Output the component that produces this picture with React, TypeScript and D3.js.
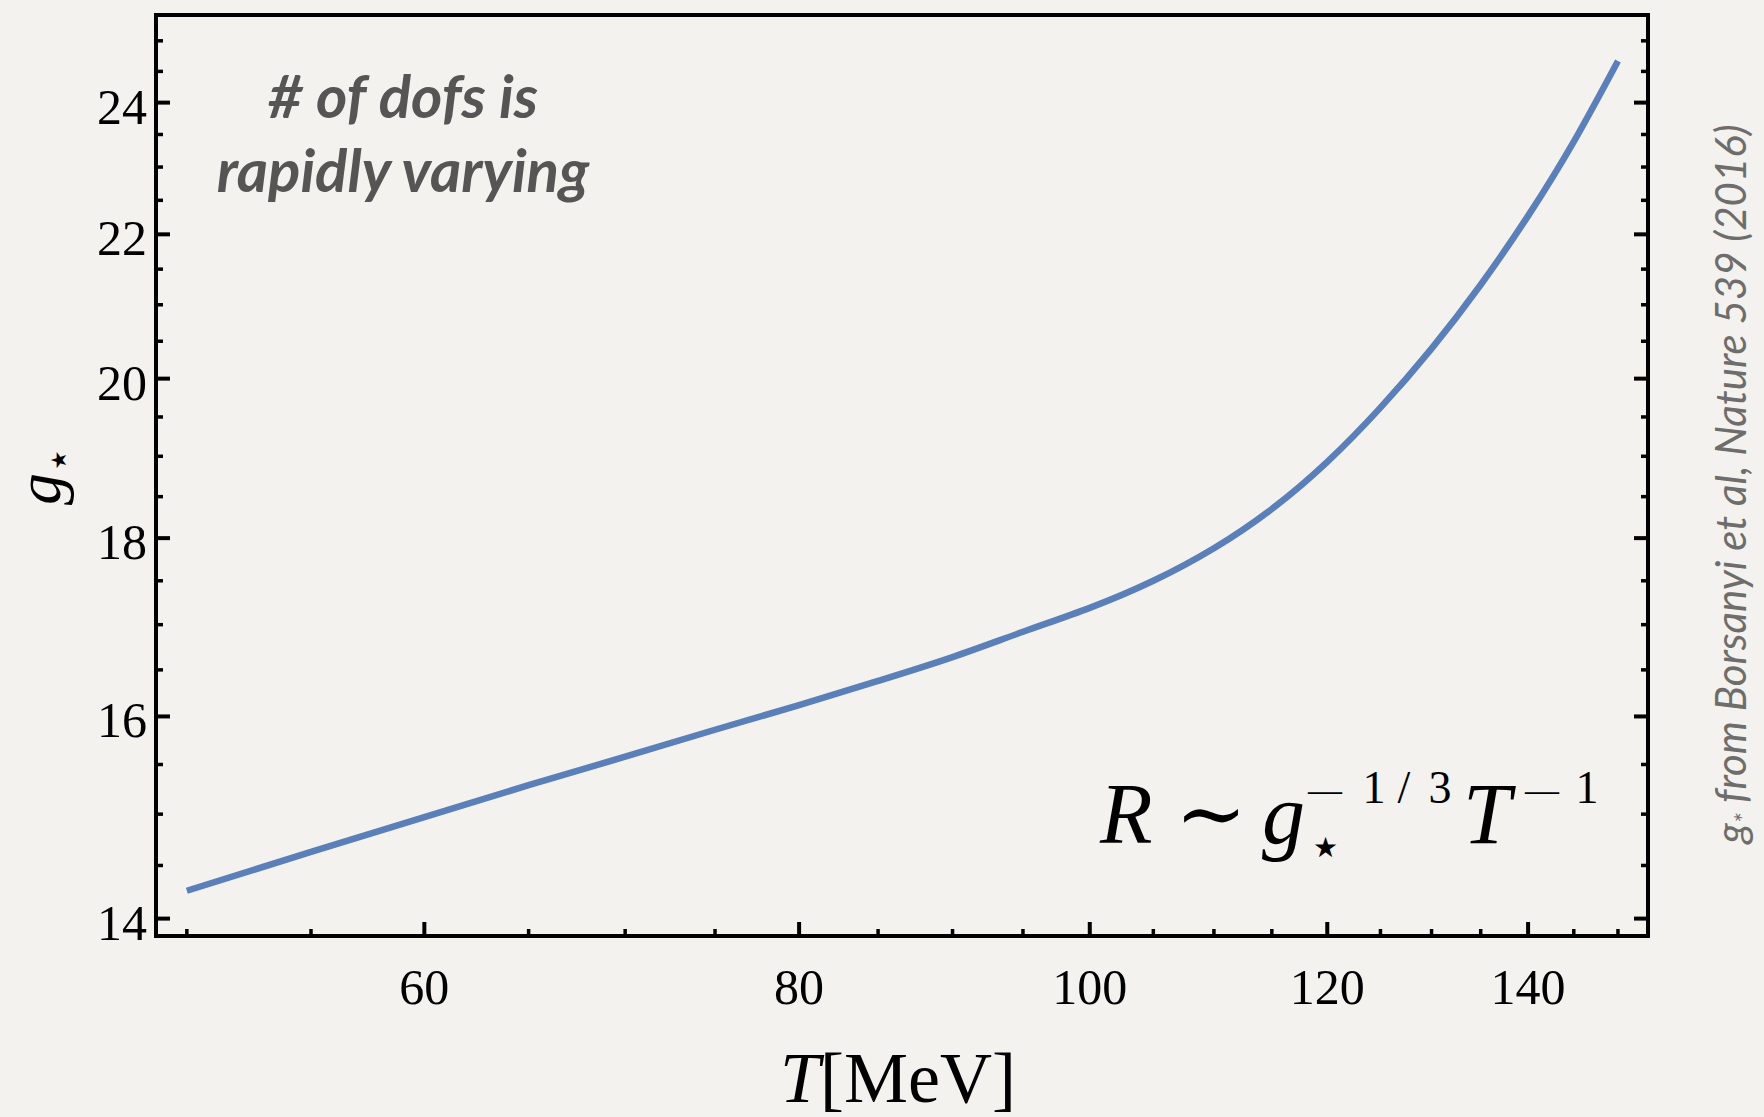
import React from 'react';
import * as d3 from 'd3';

// g* vs T (log-log)
const temps = [50, 55, 60, 65, 70, 75, 80, 85, 90, 95, 100, 105, 110, 115, 120, 125, 130, 135, 140, 145, 150];
const gStar = [14.26, 14.63, 14.97, 15.29, 15.58, 15.86, 16.12, 16.38, 16.64, 16.92, 17.19, 17.5, 17.88, 18.35, 18.93, 19.62, 20.4, 21.28, 22.27, 23.39, 24.67];

const xTicks = [60, 80, 100, 120, 140];
const xMinor = [50, 55, 65, 70, 75, 85, 90, 95, 105, 110, 115, 125, 130, 135, 145, 150];
const yTicks = [14, 16, 18, 20, 22, 24];
const yMinor = [14.5, 15, 15.5, 16.5, 17, 17.5, 18.5, 19, 19.5, 20.5, 21, 21.5, 22.5, 23, 23.5, 24.5, 25];

const W = 1764;
const H = 1117;
const left = 156, right = 1648, top = 15, bottom = 936;

export default function App() {
  const x = d3.scaleLog().domain([48.83, 153.5]).range([left, right]);
  const y = d3.scaleLog().domain([13.84, 25.43]).range([bottom, top]);

  const data = temps.map((t, i) => ({ t, g: gStar[i] }));
  const line = d3.line<{ t: number; g: number }>()
    .x(d => x(d.t))
    .y(d => y(d.g))
    .curve(d3.curveNatural);

  const serif = '"Liberation Serif", "DejaVu Serif", serif';
  const sans = 'Lato, "Open Sans", sans-serif';
  const star = '"DejaVu Sans", sans-serif';

  return (
    <div style={{ position: 'absolute', left: 0, top: 0 }}>
      <svg width={W} height={H} style={{ display: 'block' }}>
        <rect x={0} y={0} width={W} height={H} fill="#f3f2ef" />

        {/* curve */}
        <path d={line(data) || ''} fill="none" stroke="#5b7fb9" strokeWidth={6.5} />

        {/* ticks, left + right */}
        {yTicks.map(v => (
          <g key={'y' + v}>
            <line x1={left} x2={left + 14} y1={y(v)} y2={y(v)} stroke="#000" strokeWidth={4} />
            <line x1={right} x2={right - 14} y1={y(v)} y2={y(v)} stroke="#000" strokeWidth={4} />
            <text x={147} y={y(v) + 21} textAnchor="end" fontFamily={serif} fontSize={50}>{v}</text>
          </g>
        ))}
        {yMinor.map(v => (
          <g key={'ym' + v}>
            <line x1={left} x2={left + 7} y1={y(v)} y2={y(v)} stroke="#000" strokeWidth={3.5} />
            <line x1={right} x2={right - 7} y1={y(v)} y2={y(v)} stroke="#000" strokeWidth={3.5} />
          </g>
        ))}

        {/* ticks, bottom */}
        {xTicks.map(v => (
          <g key={'x' + v}>
            <line x1={x(v)} x2={x(v)} y1={bottom} y2={bottom - 14} stroke="#000" strokeWidth={4} />
            <text x={x(v)} y={1004} textAnchor="middle" fontFamily={serif} fontSize={50}>{v}</text>
          </g>
        ))}
        {xMinor.map(v => (
          <line key={'xm' + v} x1={x(v)} x2={x(v)} y1={bottom} y2={bottom - 7} stroke="#000" strokeWidth={3.5} />
        ))}

        {/* frame */}
        <rect x={left} y={top} width={right - left} height={bottom - top} fill="none" stroke="#000" strokeWidth={4} />

        {/* axis titles */}
        <text x={898} y={1102} textAnchor="middle" fontFamily={serif} fontSize={72}>
          <tspan fontStyle="italic">T</tspan>[MeV]
        </text>
        <g transform="translate(60,477) rotate(-90)">
          <text x={-12} y={0} textAnchor="middle" fontFamily={serif} fontStyle="italic" fontSize={64}>g</text>
          <text x={17} y={6} textAnchor="middle" fontFamily={star} fontSize={21}>★</text>
        </g>

        {/* annotations */}
        <g fontFamily={sans} fontStyle="italic" fontWeight={700} fontSize={60} fill="#575553" textAnchor="middle">
          <text x={403} y={118}># of dofs is</text>
          <text x={403} y={192}>rapidly varying</text>
        </g>

        <g fontFamily={serif} fill="#000">
          <text x={1100} y={843} fontSize={86} fontStyle="italic">R</text>
          <text x={1211} y={843} fontSize={86} textAnchor="middle">∼</text>
          <text x={1262} y={843} fontSize={86} fontStyle="italic">g</text>
          <text x={1313} y={857} fontSize={28} fontFamily={star}>★</text>
          <g fontSize={46} textAnchor="middle">
            <text x={1325} y={801} fontSize={34}>—</text>
            <text x={1374} y={803}>1</text>
            <text x={1404} y={803}>/</text>
            <text x={1440} y={803}>3</text>
            <text x={1542} y={801} fontSize={34}>—</text>
            <text x={1587} y={803}>1</text>
          </g>
          <text x={1463} y={843} fontSize={86} fontStyle="italic">T</text>
        </g>

        <text transform="translate(1746,484) rotate(-90)" textAnchor="middle" fontFamily={sans} fontStyle="italic" fontSize={42} fill="#6e6d6b">
          <tspan>g</tspan>
          <tspan fontSize={26} dy={7}>*</tspan>
          <tspan dy={-7}> from Borsanyi et al, Nature 539 (2016)</tspan>
        </text>
      </svg>
    </div>
  );
}
